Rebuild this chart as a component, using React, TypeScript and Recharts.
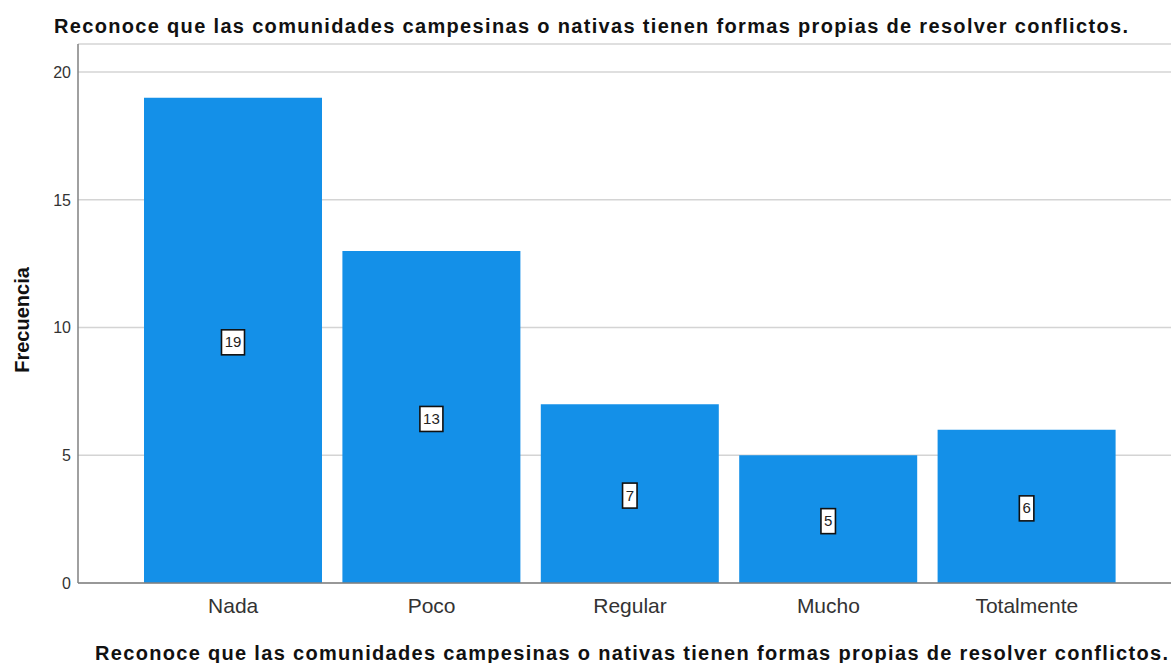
import React from 'react'
import { BarChart, Bar, XAxis, YAxis, CartesianGrid, LabelList } from 'recharts'

const categories = ['Nada', 'Poco', 'Regular', 'Mucho', 'Totalmente']
const frecuencias = [19, 13, 7, 5, 6]
const yTicks = [0, 5, 10, 15, 20]

const TITLE = 'Reconoce que las comunidades campesinas o nativas tienen formas propias de resolver conflictos.'
const FONT = '"Liberation Sans", Arial, sans-serif'

const data = categories.map((name, i) => ({ name, value: frecuencias[i] }))

function BoxLabel(props: any) {
  const { x, y, width, height, value } = props
  const cx = x + width / 2
  const cy = y + height / 2 + 2
  const txt = String(value)
  const w = txt.length * 8.5 + 6
  const h = 25
  return (
    <g>
      <rect x={cx - w / 2} y={cy - h / 2} width={w} height={h} fill="#fff" stroke="#111" strokeWidth={1.6} />
      <text x={cx} y={cy + 5} textAnchor="middle" fontSize={15} fontFamily={FONT} fill="#222">
        {txt}
      </text>
    </g>
  )
}

export default function App() {
  return (
    <div style={{ position: 'absolute', left: 0, top: 0, width: 1171, height: 663, background: '#fff', fontFamily: FONT }}>
      <BarChart width={1171} height={663} data={data} margin={{ top: 44, right: 0, bottom: 0, left: 0 }}>
        <CartesianGrid vertical={false} stroke="#d4d4d4" strokeWidth={1.5} />
        <XAxis
          dataKey="name"
          height={80}
          padding={{ left: 56, right: 45 }}
          tickLine={false}
          axisLine={{ stroke: '#808080', strokeWidth: 1.5 }}
          tick={{ fontSize: 21, fill: '#333', fontFamily: FONT }}
          tickMargin={9}
        />
        <YAxis
          width={78}
          domain={[0, 21.1]}
          ticks={yTicks}
          tickLine={false}
          axisLine={{ stroke: '#808080', strokeWidth: 1.5 }}
          tick={{ fontSize: 16, fill: '#333', fontFamily: FONT }}
          tickMargin={1}
        />
        <Bar dataKey="value" fill="#1490e8" barSize={178} isAnimationActive={false}>
          <LabelList dataKey="value" content={<BoxLabel />} />
        </Bar>
      </BarChart>
      <svg width={1171} height={663} style={{ position: 'absolute', left: 0, top: 0, pointerEvents: 'none' }}>
        <text x={54} y={33} fontSize={20} fontWeight="bold" fontFamily={FONT} fill="#111" textLength={1074} lengthAdjust="spacing">
          {TITLE}
        </text>
        <text
          x={29}
          y={320}
          fontSize={20}
          fontWeight="bold"
          fontFamily={FONT}
          fill="#111"
          textAnchor="middle"
          transform="rotate(-90 29 320)"
        >
          Frecuencia
        </text>
        <text x={95} y={660} fontSize={20} fontWeight="bold" fontFamily={FONT} fill="#111" textLength={1073} lengthAdjust="spacing">
          {TITLE}
        </text>
      </svg>
    </div>
  )
}
